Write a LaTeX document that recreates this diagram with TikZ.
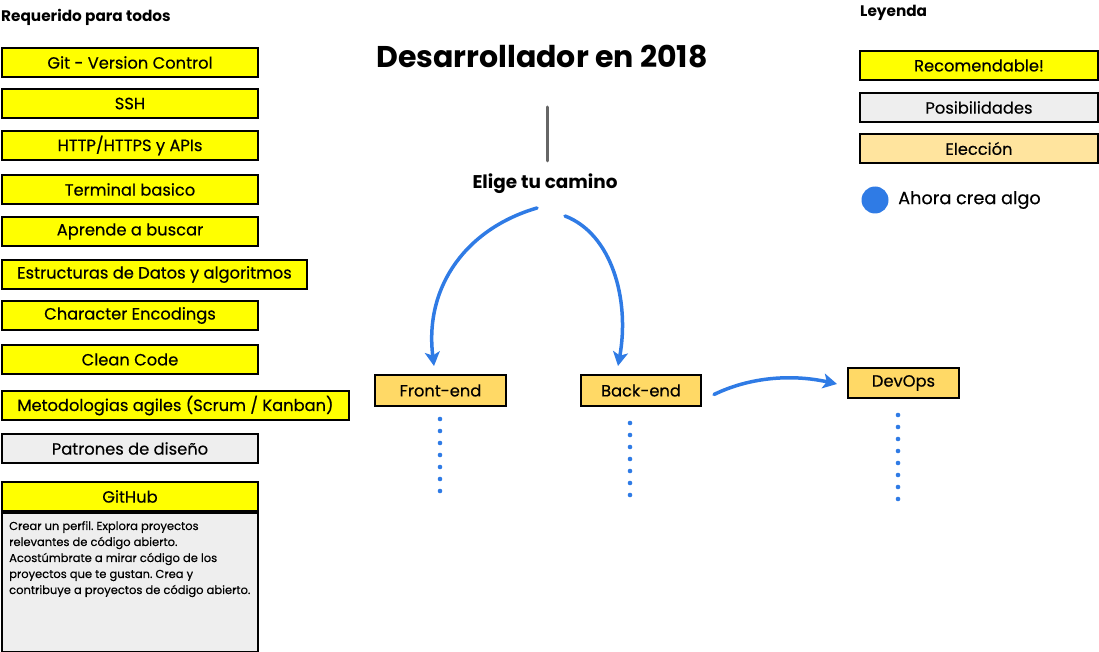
\documentclass[tikz,border=0pt]{standalone}
\usepackage{fontspec}
\setmainfont{Poppins}
\newfontfamily\boxfont{Poppins}[FakeBold=0.35]
\usetikzlibrary{arrows.meta}
\definecolor{yel}{HTML}{FFFF00}
\definecolor{gry}{HTML}{EEEEEE}
\definecolor{elec}{HTML}{FFE49E}
\definecolor{pick}{HTML}{FFD966}
\definecolor{blu}{HTML}{2F7BE5}
\definecolor{stem}{HTML}{666666}
\begin{document}
\frenchspacing
\begin{tikzpicture}[x=1pt,y=-1pt,
  box/.style={draw=black, line width=2pt, rectangle, inner sep=0pt, anchor=north west,
    font=\boxfont\fontsize{16.3}{19}\selectfont},
  req/.style={box, fill=yel, minimum height=29pt},
  flow/.style={draw=blu, line width=3.5pt, line cap=round, -{Stealth[length=14pt,width=15pt,inset=3.5pt]}},
  dotline/.style={draw=blu, line width=4.6pt, line cap=round, dash pattern=on 0pt off 12pt},
  hdr/.style={font=\fontsize{15.3}{17}\selectfont\bfseries, anchor=west, inner sep=0pt}]
\useasboundingbox (0,0) rectangle (1099,652);

% left column
\node[hdr] (reqhdr) at (1,17) {Requerido para todos};
\node[req, minimum width=256pt] (git) at (1,47) {Git - Version Control};
\node[req, minimum width=256pt] (ssh) at (1,88) {SSH};
\node[req, minimum width=256pt] (http) at (1,130) {HTTP/HTTPS y APIs};
\node[req, minimum width=256pt] (term) at (1,174) {Terminal basico};
\node[req, minimum width=256pt] (busc) at (1,216) {Aprende a buscar};
\node[req, minimum width=305pt] (estr) at (1,259) {Estructuras de Datos y algoritmos};
\node[req, minimum width=256pt] (chenc) at (1,300) {Character Encodings};
\node[req, minimum width=256pt] (clean) at (1,344) {Clean Code};
\node[req, minimum width=347pt] (agil) at (1,390) {Metodologias agiles (Scrum / Kanban)};
\node[box, fill=gry, minimum width=256pt, minimum height=29pt] (patr) at (1,433) {Patrones de diseño};
\node[req, minimum width=256pt] (gh) at (1,481) {GitHub};
\node[box, fill=gry, minimum width=256pt, minimum height=139pt] (ghbox) at (1,512) {};
\node[anchor=north west, inner sep=0pt, align=left,
  font=\boxfont\fontsize{11.5}{16}\selectfont] (ghtext) at ([xshift=8pt,yshift=-9pt]ghbox.north west)
  {Crear un perfil. Explora proyectos\\ relevantes de código abierto.\\ Acostúmbrate a mirar código de los\\ proyectos que te gustan. Crea y\\ contribuye a proyectos de código abierto.};

% centre
\node[font=\fontsize{30}{34}\selectfont\bfseries, inner sep=0pt] (title) at (542,57) {Desarrollador en 2018};
\coordinate (stemtop) at (547,107);
\node[font=\fontsize{18.4}{21}\selectfont\bfseries, inner sep=0pt] (elige) at (545,184) {Elige tu camino};
\draw[stem, line width=3pt, line cap=round] (stemtop) -- ([yshift=13pt]elige.north -| stemtop);

\node[box, fill=pick, minimum width=131pt, minimum height=31pt] (fe) at (374,374) {Front-end};
\node[box, fill=pick, minimum width=120pt, minimum height=31pt] (be) at (580,374) {Back-end};
\node[box, fill=pick, minimum width=111pt, minimum height=30pt] (dv) at (847,367) {DevOps};

\coordinate (el1) at (537,208);
\coordinate (el2) at (565,216);
\draw[flow] (el1) .. controls (468,228) and (424,285) .. ([xshift=-6.5pt,yshift=8pt]fe.north);
\draw[flow] (el2) .. controls (612,234) and (630,300) .. ([xshift=-23pt,yshift=8pt]be.north);
\draw[flow] ([xshift=12pt,yshift=-4pt]be.east) .. controls (750,377) and (792,374) .. ([xshift=-10pt,yshift=-1pt]dv.west);

\coordinate (fed1) at (440,419);
\coordinate (fed2) at (440,491.01);
\coordinate (bed1) at (630,423);
\coordinate (bed2) at (630,495.01);
\coordinate (dvd1) at (898,415);
\coordinate (dvd2) at (898,499.01);
\draw[dotline] (fed1) -- (fed2);
\draw[dotline] (bed1) -- (bed2);
\draw[dotline] (dvd1) -- (dvd2);

% legend
\node[hdr] (leyhdr) at (860,13) {Leyenda};
\node[box, fill=yel, minimum width=238pt, minimum height=29pt] (lrec) at (859,50) {Recomendable!};
\node[box, fill=gry, minimum width=238pt, minimum height=29pt] (lpos) at (859,92) {Posibilidades};
\node[box, fill=elec, minimum width=238pt, minimum height=29pt] (lele) at (859,133) {Elección};
\node[circle, fill=blu, minimum size=27pt, inner sep=0pt] (ldot) at (875,200) {};
\node[anchor=west, inner sep=0pt, font=\boxfont\fontsize{17.7}{20}\selectfont] (lahora) at (898,200) {Ahora crea algo};
\end{tikzpicture}
\end{document}
